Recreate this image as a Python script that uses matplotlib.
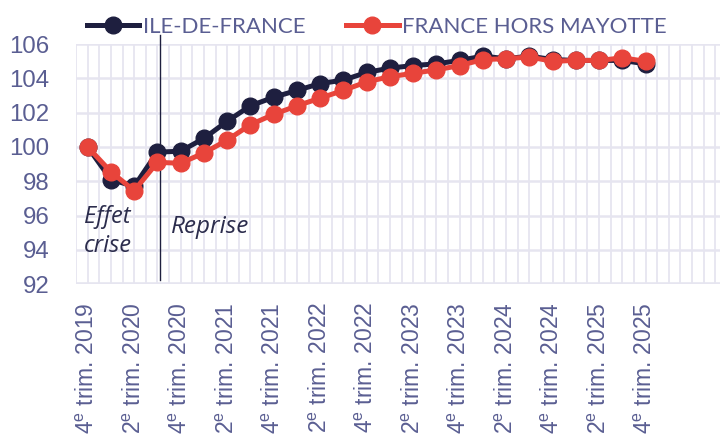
import matplotlib
matplotlib.use("Agg")
import matplotlib.pyplot as plt
import numpy as np

# quarterly index, base 100 = 4e trim. 2019
quarters = ["4", "1", "2", "3"] + ["4", "1", "2", "3"] * 5 + ["4"]
years = [2019] + [y for y in range(2020, 2026) for _ in range(4)]
idf = [100.0, 98.1, 97.7, 99.7, 99.75, 100.5, 101.5, 102.4, 102.9, 103.3,
       103.7, 103.9, 104.35, 104.6, 104.75, 104.85, 105.05, 105.3, 105.15,
       105.3, 105.1, 105.05, 105.05, 105.05, 104.85]
france = [100.0, 98.55, 97.45, 99.1, 99.05, 99.65, 100.4, 101.3, 101.9, 102.4,
          102.85, 103.3, 103.8, 104.1, 104.3, 104.5, 104.75, 105.1, 105.15,
          105.25, 105.0, 105.05, 105.05, 105.2, 105.0]
series_names = ["ILE-DE-FRANCE", "FRANCE HORS MAYOTTE"]

NAVY = "#1e1f3f"
RED = "#e8443b"
TXT = "#5a5e92"
GRID = "#e6e5f0"
NOTE = "#2b2c4c"

plt.rcParams["mathtext.fontset"] = "custom"
plt.rcParams["mathtext.rm"] = "Liberation Sans"

fig = plt.figure(figsize=(7.2, 4.37), dpi=100)
ax = fig.add_axes([0.1056, 0.350, 0.8944, 0.549])

x = np.arange(len(idf))
ax.plot(x, idf, color=NAVY, lw=3.6, marker="o", ms=12, zorder=3, label=series_names[0])
ax.plot(x, france, color=RED, lw=3.6, marker="o", ms=12, zorder=4, label=series_names[1])

ax.set_xlim(-0.5, 27.2)
ax.set_ylim(92, 106)
ax.set_yticks(np.arange(92, 107, 2))
ax.set_xticks(x[::2])
labels = [f"{q}$^{{\\mathrm{{e}}}}$ trim. {y}" for q, y in zip(quarters, years)][::2]
ax.set_xticklabels(labels, rotation=90, fontsize=16.5, color=TXT, family="Liberation Sans")
for t in ax.get_yticklabels():
    t.set_fontsize(17.3)
    t.set_color(TXT)
    t.set_family("Liberation Sans")
ax.tick_params(axis="x", length=0, pad=13)
ax.tick_params(axis="y", length=0, pad=19)

for s in ax.spines.values():
    s.set_visible(False)
for yv in np.arange(92, 107, 2):
    ax.axhline(yv, color=GRID, lw=1.8 if yv > 92 else 2.6, zorder=0)
for xv in np.arange(-0.5, 27.3, 0.5):
    ax.axvline(xv, color=GRID, lw=1.3, zorder=0)

# crisis / recovery separator
ax.plot([3.12, 3.12], [92.25, 106.55], color=NAVY, lw=1.0, clip_on=False, zorder=2)
ax.text(-0.16, 95.56, "Effet", fontsize=17, style="italic", family="Open Sans",
        color=NOTE, ha="left", va="baseline")
ax.text(-0.16, 93.86, "crise", fontsize=17, style="italic", family="Open Sans",
        color=NOTE, ha="left", va="baseline")
ax.text(3.59, 94.97, "Reprise", fontsize=17.5, style="italic", family="Open Sans",
        color=NOTE, ha="left", va="baseline")

leg = ax.legend(loc="lower left", bbox_to_anchor=(0.0, 0.985), ncol=2, frameon=False,
                handlelength=2.35, handletextpad=0.15, columnspacing=1.85,
                prop={"family": "Lato", "size": 16}, borderaxespad=0.1)
for t in leg.get_texts():
    t.set_color(TXT)

fig.savefig("out.png", dpi=100)
